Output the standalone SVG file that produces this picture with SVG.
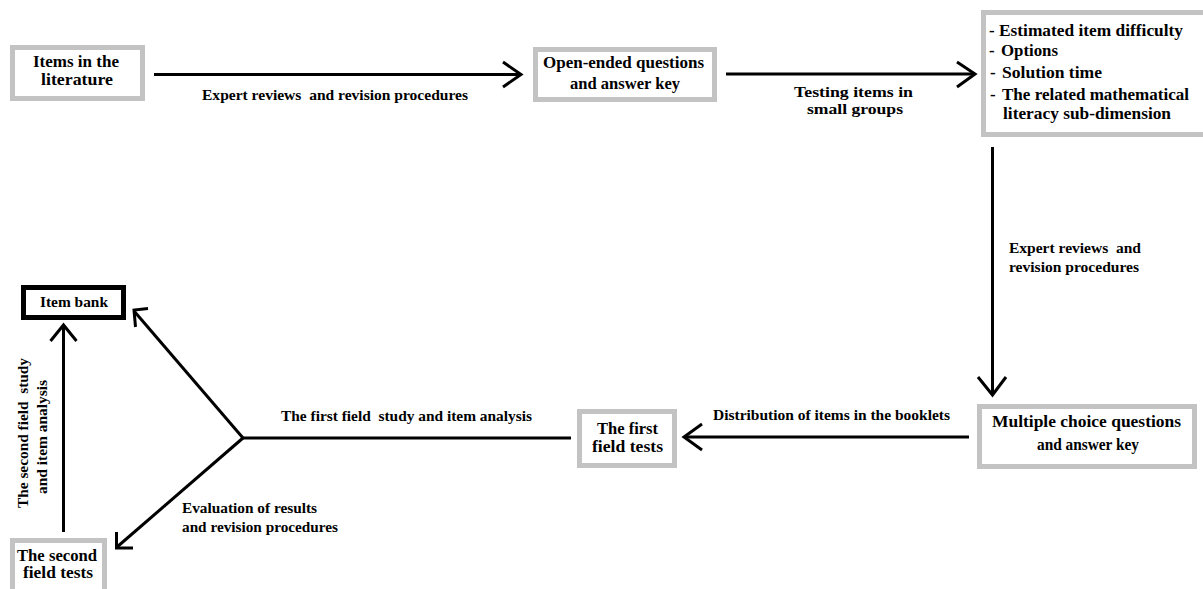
<svg xmlns="http://www.w3.org/2000/svg" width="1203" height="589" viewBox="0 0 1203 589">
<style>
.box{fill:#fff;stroke:#c3c3c3;stroke-width:5}
.bold{fill:#fff;stroke:#000;stroke-width:5}
text{font-family:"Liberation Serif","Times New Roman",serif;font-weight:bold;fill:#000}
.t{font-size:17px}
.l{font-size:15.5px}
.c line,.c polyline{stroke:#000;stroke-width:3;fill:none}
</style>
<rect width="1203" height="589" fill="#fff"/>
<g id="n-items-literature">
<rect class="box" x="12.5" y="47.5" width="130" height="51"/>
<text class="t" x="33" y="67" textLength="86" lengthAdjust="spacingAndGlyphs">Items in the</text>
<text class="t" x="41" y="85" textLength="72" lengthAdjust="spacingAndGlyphs">literature</text>
</g>
<g id="n-open-ended">
<rect class="box" x="535.5" y="49.5" width="179" height="50"/>
<text class="t" x="543" y="68" textLength="161" lengthAdjust="spacingAndGlyphs">Open-ended questions</text>
<text class="t" x="570" y="89" textLength="110" lengthAdjust="spacingAndGlyphs">and answer key</text>
</g>
<g id="n-properties">
<rect class="box" x="983.5" y="12.5" width="240" height="122"/>
<text class="t" x="989" y="36">-</text>
<text class="t" x="999" y="36" textLength="184" lengthAdjust="spacingAndGlyphs">Estimated item difficulty</text>
<text class="t" x="989" y="56">-</text>
<text class="t" x="1001" y="56" textLength="57" lengthAdjust="spacingAndGlyphs">Options</text>
<text class="t" x="990" y="78">-</text>
<text class="t" x="1002" y="78" textLength="100" lengthAdjust="spacingAndGlyphs">Solution time</text>
<text class="t" x="990" y="100">-</text>
<text class="t" x="1002" y="100" textLength="187" lengthAdjust="spacingAndGlyphs">The related mathematical</text>
<text class="t" x="1003" y="119" textLength="168" lengthAdjust="spacingAndGlyphs">literacy sub-dimension</text>
</g>
<g id="n-multiple-choice">
<rect class="box" x="979.5" y="406.5" width="215" height="60"/>
<text class="t" x="992" y="427" textLength="189" lengthAdjust="spacingAndGlyphs">Multiple choice questions</text>
<text class="t" x="1037" y="450" textLength="102" lengthAdjust="spacingAndGlyphs">and answer key</text>
</g>
<g id="n-first-field-tests">
<rect class="box" x="579.5" y="411.5" width="95" height="54"/>
<text class="t" x="597" y="434" textLength="61" lengthAdjust="spacingAndGlyphs">The first</text>
<text class="t" x="592" y="452" textLength="71" lengthAdjust="spacingAndGlyphs">field tests</text>
</g>
<g id="n-item-bank">
<rect class="bold" x="23.5" y="287.5" width="100" height="30"/>
<text class="l" x="40" y="307" textLength="68" lengthAdjust="spacingAndGlyphs">Item bank</text>
</g>
<g id="n-second-field-tests">
<rect class="box" x="12.5" y="540.5" width="92" height="60"/>
<text class="t" x="17" y="561" textLength="80" lengthAdjust="spacingAndGlyphs">The second</text>
<text class="t" x="23" y="578" textLength="70" lengthAdjust="spacingAndGlyphs">field tests</text>
</g>
<g id="connectors" class="c">
<line x1="154" y1="74.5" x2="519" y2="74.5"/>
<polyline points="503,62 521,74.5 503,87"/>
<line x1="726" y1="74" x2="973" y2="74"/>
<polyline points="957,62 975,74 957,87"/>
<line x1="992.5" y1="147" x2="992.5" y2="393"/>
<polyline points="978,377 992.5,395 1006,377"/>
<line x1="969" y1="437" x2="685" y2="437"/>
<polyline points="702,424 684,437 702,450"/>
<line x1="571" y1="438" x2="242" y2="438"/>
<line x1="243" y1="438" x2="134" y2="311"/>
<polyline points="148,308.5 134,310 135.5,327"/>
<line x1="243" y1="438" x2="117" y2="547"/>
<polyline points="116.5,532 116.5,548 133,548"/>
<line x1="63.5" y1="532" x2="63.5" y2="327"/>
<polyline points="50.5,341 63.5,325 76.5,341"/>
</g>
<g id="labels">
<text class="l" x="202" y="100" textLength="266" lengthAdjust="spacingAndGlyphs" xml:space="preserve">Expert reviews  and revision procedures</text>
<text class="l" x="794" y="97" textLength="119" lengthAdjust="spacingAndGlyphs">Testing items in</text>
<text class="l" x="807" y="114" textLength="96" lengthAdjust="spacingAndGlyphs">small groups</text>
<text class="l" x="1009" y="253" textLength="132" lengthAdjust="spacingAndGlyphs" xml:space="preserve">Expert reviews  and</text>
<text class="l" x="1009" y="272" textLength="130" lengthAdjust="spacingAndGlyphs">revision procedures</text>
<text class="l" x="713" y="420" textLength="237" lengthAdjust="spacingAndGlyphs">Distribution of items in the booklets</text>
<text class="l" x="281" y="421" textLength="251" lengthAdjust="spacingAndGlyphs" xml:space="preserve">The first field  study and item analysis</text>
<text class="l" x="182" y="513" textLength="135" lengthAdjust="spacingAndGlyphs">Evaluation of results</text>
<text class="l" x="182" y="532" textLength="156" lengthAdjust="spacingAndGlyphs">and revision procedures</text>
<text class="l" transform="translate(28,433) rotate(-90)" text-anchor="middle" textLength="150" lengthAdjust="spacingAndGlyphs" xml:space="preserve">The second field  study</text>
<text class="l" transform="translate(47,437) rotate(-90)" text-anchor="middle" textLength="114" lengthAdjust="spacingAndGlyphs">and item analysis</text>
</g>
</svg>
